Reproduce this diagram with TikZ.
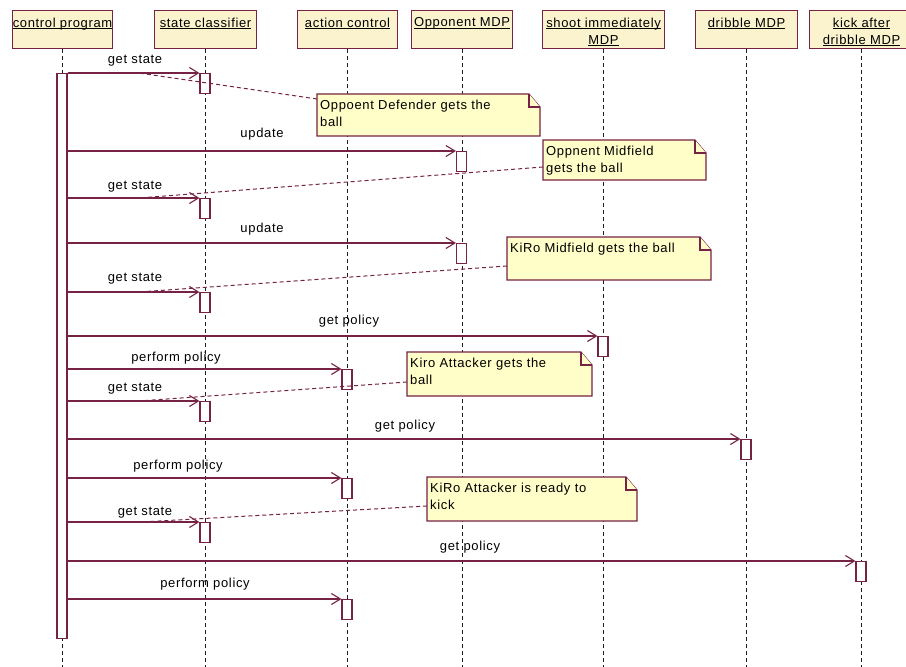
\documentclass[tikz,border=0pt]{standalone}
\usepackage{fontspec}
\setmainfont[LetterSpace=5]{Liberation Sans}
\usetikzlibrary{arrows.meta,calc}

\definecolor{umlline}{RGB}{118,34,68}
\definecolor{headfill}{RGB}{250,243,205}
\definecolor{notefill}{RGB}{255,253,200}
\definecolor{lifegray}{RGB}{30,30,30}

% underlined object name, rule close under the baseline
\newcommand\hdul[1]{\setbox0\hbox{#1}\rlap{\rule[-2.2bp]{\wd0}{0.9bp}}\box0}

% note with folded corner: name, x, y, width, height, pin offset, text
\newcommand\umlnote[7]{%
  \filldraw[notebox] (#2,#3) -- ++({#4-11},0) -- ++(11,13) -- ++(0,{#5-13}) -- ++({-#4},0) -- cycle;
  \draw[notebox] ({#2+#4-11},#3) -- ++(0,13) -- ++(11,0);
  \node[notetext] (#1) at ({#2+3},{#3+6}) {#7};
  \coordinate (#1-pin) at (#2,{#3+#6});
}

\tikzset{
  headbox/.style={draw=umlline, fill=headfill, line width=1.1bp, minimum height=38bp,
                  inner sep=0pt, anchor=north west},
  headtext/.style={anchor=north, inner sep=0pt, align=center},
  lifeline/.style={draw=lifegray, dash pattern=on 4bp off 3bp, line width=1bp},
  actbox/.style={draw=umlline, fill=white, line width=1.1bp, minimum width=10bp,
                 minimum height=20bp, inner sep=0pt, anchor=north},
  msg/.style={draw=umlline, line width=1.1bp, -{Straight Barb[length=9bp,width=11bp]}},
  lbl/.style={anchor=base, inner sep=0pt},
  notebox/.style={draw=umlline, fill=notefill, line width=1.1bp},
  notetext/.style={anchor=north west, inner sep=0pt, align=left},
  pin/.style={draw=umlline, line width=1bp, dash pattern=on 4bp off 3bp},
}

\begin{document}
\begin{tikzpicture}[x=1bp, y=-1bp, font=\fontsize{13bp}{17bp}\selectfont]
\useasboundingbox[fill=white] (0,0) rectangle (906,667);
\coordinate (bottom) at (0,667);

% object heads
\node[headbox, minimum width=100bp] (cp) at (12,10) {};
\node[headtext] (cp-t) at ([yshift=-7.5bp]cp.north) {\hdul{control program}};
\node[headbox, minimum width=102bp] (sc) at (154,10) {};
\node[headtext] (sc-t) at ([yshift=-7.5bp]sc.north) {\hdul{state classifier}};
\node[headbox, minimum width=100bp] (ac) at (297,10) {};
\node[headtext] (ac-t) at ([yshift=-7.5bp]ac.north) {\hdul{action control}};
\node[headbox, minimum width=101bp] (om) at (411,10) {};
\node[headtext] (om-t) at ([yshift=-7.5bp]om.north) {\hdul{Opponent MDP}};
\node[headbox, minimum width=122bp] (sm) at (542,10) {};
\node[headtext] (sm-t) at ([yshift=-7.5bp]sm.north) {\hdul{shoot immediately}\\\hdul{MDP}};
\node[headbox, minimum width=102bp] (dm) at (695,10) {};
\node[headtext] (dm-t) at ([yshift=-7.5bp]dm.north) {\hdul{dribble MDP}};
\node[headbox, minimum width=104bp] (km) at (809,10) {};
\node[headtext] (km-t) at ([yshift=-7.5bp]km.north) {\hdul{kick after}\\\hdul{dribble MDP}};

% lifelines
\foreach \o in {cp,sc,ac,om,sm,dm,km}
  \draw[lifeline] (\o.south) -- (\o.south |- bottom);

% notes
\umlnote{n1}{317}{94}{223}{42}{5}{Oppoent Defender gets the\\ball}
\umlnote{n2}{543}{140}{163}{40}{27}{Oppnent Midfield\\gets the ball}
\umlnote{n3}{507}{237}{204}{43}{29}{KiRo Midfield gets the ball}
\umlnote{n4}{407}{352}{185}{44}{30}{Kiro Attacker gets the\\ball}
\umlnote{n5}{427}{477}{210}{44}{29}{KiRo Attacker is ready to\\kick}

% activation bars
\node[actbox, minimum height=565bp] (cpbar) at (62,73) {};
\node[actbox] (a1)  at (205,73)   {};
\node[actbox] (a2)  at (461.5,151) {};
\node[actbox] (a3)  at (205,198)  {};
\node[actbox] (a4)  at (461.5,243) {};
\node[actbox] (a5)  at (205,292)  {};
\node[actbox] (a6)  at (603,336)  {};
\node[actbox] (a7)  at (347,369)  {};
\node[actbox] (a8)  at (205,401)  {};
\node[actbox] (a9)  at (746,439)  {};
\node[actbox] (a10) at (347,478)  {};
\node[actbox] (a11) at (205,522)  {};
\node[actbox] (a12) at (861,561)  {};
\node[actbox] (a13) at (347,599)  {};

% messages
\draw[msg] (cpbar.east |- a1.north)  -- coordinate[pos=0.54] (m1) (a1.north west);
\draw[msg] (cpbar.east |- a2.north)  -- (a2.north west);
\draw[msg] (cpbar.east |- a3.north)  -- coordinate[pos=0.54] (m3) (a3.north west);
\draw[msg] (cpbar.east |- a4.north)  -- (a4.north west);
\draw[msg] (cpbar.east |- a5.north)  -- coordinate[pos=0.54] (m5) (a5.north west);
\draw[msg] (cpbar.east |- a6.north)  -- (a6.north west);
\draw[msg] (cpbar.east |- a7.north)  -- (a7.north west);
\draw[msg] (cpbar.east |- a8.north)  -- coordinate[pos=0.54] (m8) (a8.north west);
\draw[msg] (cpbar.east |- a9.north)  -- (a9.north west);
\draw[msg] (cpbar.east |- a10.north) -- (a10.north west);
\draw[msg] (cpbar.east |- a11.north) -- coordinate[pos=0.56] (m11) (a11.north west);
\draw[msg] (cpbar.east |- a12.north) -- (a12.north west);
\draw[msg] (cpbar.east |- a13.north) -- (a13.north west);

% message labels
\node[lbl] (l1)  at (135,64)  {get state};
\node[lbl] (l2)  at (262,138) {update};
\node[lbl] (l3)  at (135,189) {get state};
\node[lbl] (l4)  at (262,232) {update};
\node[lbl] (l5)  at (135,281) {get state};
\node[lbl] (l6)  at (349,324) {get policy};
\node[lbl] (l7)  at (176,361) {perform policy};
\node[lbl] (l8)  at (135,391) {get state};
\node[lbl] (l9)  at (405,429) {get policy};
\node[lbl] (l10) at (178,469) {perform policy};
\node[lbl] (l11) at (145,515) {get state};
\node[lbl] (l12) at (470,550) {get policy};
\node[lbl] (l13) at (205,587) {perform policy};

% note attachments
\draw[pin] (n1-pin) -- (m1);
\draw[pin] (n2-pin) -- (m3);
\draw[pin] (n3-pin) -- (m5);
\draw[pin] (n4-pin) -- (m8);
\draw[pin] (n5-pin) -- (m11);
\end{tikzpicture}
\end{document}
